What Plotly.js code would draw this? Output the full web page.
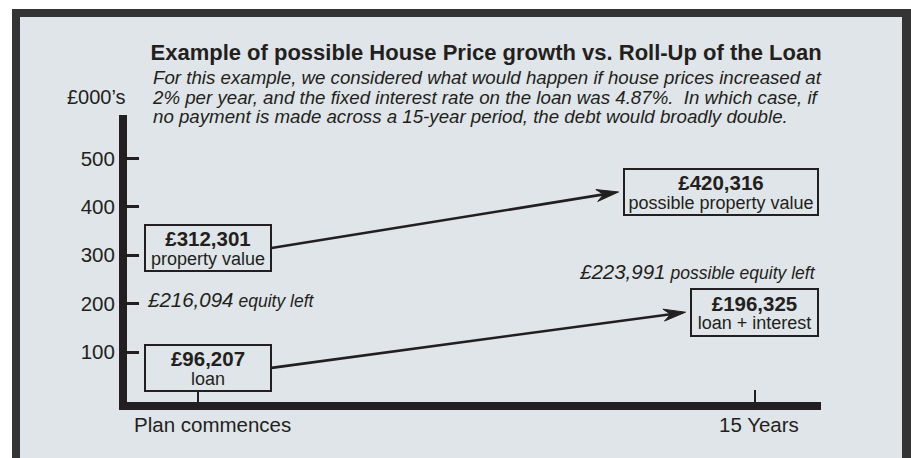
<!DOCTYPE html>
<html><head><meta charset="utf-8">
<script src="https://cdn.plot.ly/plotly-3.0.1.min.js"></script>
<style>html,body{margin:0;padding:0;background:#fff;}#chart{width:911px;height:458px;}</style>
</head><body><div id="chart"></div>
<script>
// ---- data ----
const years = [0, 15];
const xTickLabels = ['Plan commences', '15 Years'];
const yTicks = [100, 200, 300, 400, 500];
const propertyValue = [312301, 420316];
const loanValue = [96207, 196325];
const equityLeft = [216094, 223991];
const propertyLabels = ['property value', 'possible property value'];
const loanLabels = ['loan', 'loan + interest'];
const equityLabels = ['equity left', 'possible equity left'];
const titleText = 'Example of possible House Price growth vs. Roll-Up of the Loan';
const subtitleLines = [
  'For this example, we considered what would happen if house prices increased at',
  '2% per year, and the fixed interest rate on the loan was 4.87%.  In which case, if',
  'no payment is made across a 15-year period, the debt would broadly double.'
];
const unitLabel = '£000’s';

// ---- layout helpers ----
const W = 911, H = 458, M = {l: 127, r: 90, t: 115, b: 56};
const PW = W - M.l - M.r, PH = H - M.t - M.b;
const xr = [-1.912, 16.777], yr = [-3.3, 589.7];
const xpix = x => M.l + (x - xr[0]) / (xr[1] - xr[0]) * PW;
const ypix = y => H - M.b - (y - yr[0]) / (yr[1] - yr[0]) * PH;
const px2x = px => (px - M.l) / PW;
const py2y = py => (H - M.b - py) / PH;
const INK = '#231f20';
const FONT = 'Liberation Sans, Arial, Helvetica, sans-serif';
const fmt = v => '£' + String(v).replace(/\B(?=(\d{3})+(?!\d))/g, ',');
const k = v => v / 1000;

// box styles (pixel shifts and sizes)
const boxes = [
  {x: years[0], v: propertyValue[0], lab: propertyLabels[0], xs: 9.5,  ys: 1.2,  w: 128, h: 48},
  {x: years[0], v: loanValue[0],     lab: loanLabels[0],     xs: 9.5,  ys: -14,  w: 128, h: 48},
  {x: years[1], v: propertyValue[1], lab: propertyLabels[1], xs: -34,  ys: 5,    w: 196, h: 48},
  {x: years[1], v: loanValue[1],     lab: loanLabels[1],     xs: -0.5, ys: -6.8, w: 129, h: 49}
];
boxes.forEach(b => {
  b.cx = xpix(b.x) + b.xs; b.cy = ypix(k(b.v)) - b.ys;
  b.left = b.cx - b.w / 2; b.right = b.cx + b.w / 2;
});

const annotations = [];
boxes.forEach(b => {
  annotations.push({
    x: b.x, y: k(b.v), xref: 'x', yref: 'y', xshift: b.xs, yshift: b.ys,
    xanchor: 'center', yanchor: 'middle', showarrow: false,
    width: b.w - 4, height: b.h - 4, borderwidth: 2, borderpad: 0,
    bordercolor: INK, valign: 'middle', align: 'center',
    font: {family: FONT, size: 14, color: INK},
    text: '<span style="font-size:20.5px;font-weight:bold">' + fmt(b.v) + '</span><br>' +
          '<span style="font-size:18px">' + b.lab + '</span>'
  });
});

// equity labels
const eqStyle = [{xanchor: 'left', xs: -53, ys: -4}, {xanchor: 'right', xs: 63.3, ys: 20.5}];
equityLeft.forEach((v, i) => {
  annotations.push({
    x: years[i], y: k(v), xref: 'x', yref: 'y', xshift: eqStyle[i].xs, yshift: eqStyle[i].ys,
    xanchor: eqStyle[i].xanchor, yanchor: 'middle', showarrow: false,
    font: {family: FONT, size: 18, color: INK},
    text: '<span style="font-size:20.5px;font-style:italic">' + fmt(v) + '</span> ' +
          '<span style="font-size:17.5px;font-style:italic">' + equityLabels[i] + '</span>'
  });
});

// x labels
const xlabStyle = [{xanchor: 'left', xs: -66}, {xanchor: 'center', xs: 4}];
xTickLabels.forEach((t, i) => {
  annotations.push({
    x: years[i], xref: 'x', y: py2y(424), yref: 'paper', xshift: xlabStyle[i].xs,
    xanchor: xlabStyle[i].xanchor, yanchor: 'middle', showarrow: false,
    font: {family: FONT, size: 20.5, color: INK}, text: t
  });
});

// subtitle
annotations.push({
  xref: 'paper', yref: 'paper', x: px2x(150), y: py2y(97), xanchor: 'left', yanchor: 'middle',
  align: 'left', showarrow: false, font: {family: FONT, size: 15, color: INK},
  text: subtitleLines.map(l => '<span style="font-size:18.7px;font-style:italic">' + l + '</span>').join('<br>')
});
// unit label
annotations.push({
  xref: 'paper', yref: 'paper', x: px2x(128), y: py2y(97), xanchor: 'right', yanchor: 'middle',
  showarrow: false, font: {family: FONT, size: 20, color: INK}, text: unitLabel
});

// ---- shapes: frame + arrows ----
const shapes = [
  {type: 'rect', xref: 'paper', yref: 'paper', x0: px2x(12), x1: px2x(940), y0: py2y(490), y1: py2y(9),
   fillcolor: '#343434', line: {width: 0}, layer: 'below'},
  {type: 'rect', xref: 'paper', yref: 'paper', x0: px2x(20), x1: px2x(902), y0: py2y(490), y1: py2y(17),
   fillcolor: '#dfe5e8', line: {width: 0}, layer: 'below'}
];
const arrowPairs = [[boxes[0], boxes[2]], [boxes[1], boxes[3]]];
const arrowAnchors = [[years[1], k(propertyValue[1])], [years[1], k(loanValue[1])]];
arrowPairs.forEach((pair, i) => {
  const [from, to] = pair;
  const ax = xpix(arrowAnchors[i][0]), ay = ypix(arrowAnchors[i][1]);
  const tail = [from.right, from.cy];
  const tip = [to.left - 4.5, to.cy];
  const dx = tip[0] - tail[0], dy = tip[1] - tail[1], len = Math.hypot(dx, dy);
  const u = [dx / len, dy / len], p = [-u[1], u[0]];
  const L = 22, hw = 6, notch = 15;
  const pt = (P) => [(P[0] - ax).toFixed(2), (ay - P[1]).toFixed(2)];
  const notchP = [tip[0] - notch * u[0], tip[1] - notch * u[1]];
  const b1 = [tip[0] - L * u[0] + hw * p[0], tip[1] - L * u[1] + hw * p[1]];
  const b2 = [tip[0] - L * u[0] - hw * p[0], tip[1] - L * u[1] - hw * p[1]];
  const t0 = pt(tail), n0 = pt(notchP);
  shapes.push({type: 'line', xref: 'x', yref: 'y', xsizemode: 'pixel', ysizemode: 'pixel',
    xanchor: arrowAnchors[i][0], yanchor: arrowAnchors[i][1],
    x0: +t0[0], y0: +t0[1], x1: +n0[0], y1: +n0[1], line: {color: INK, width: 2.6}});
  const a = pt(tip), c = pt(b1), d = pt(b2);
  shapes.push({type: 'path', xref: 'x', yref: 'y', xsizemode: 'pixel', ysizemode: 'pixel',
    xanchor: arrowAnchors[i][0], yanchor: arrowAnchors[i][1],
    path: 'M' + a.join(',') + 'L' + c.join(',') + 'L' + n0.join(',') + 'L' + d.join(',') + 'Z',
    fillcolor: INK, line: {color: INK, width: 1}});
});

const layout = {
  width: W, height: H, margin: M,
  paper_bgcolor: '#ffffff', plot_bgcolor: 'rgba(0,0,0,0)',
  showlegend: false,
  title: {text: '<b>' + titleText + '</b>', font: {family: FONT, size: 22, color: INK},
          x: 150.5 / W, xref: 'container', xanchor: 'left', y: 1 - 52 / H, yref: 'container', yanchor: 'middle'},
  xaxis: {range: xr, tickvals: years, showticklabels: false, ticks: 'inside', ticklen: 12, tickwidth: 2.5,
          tickcolor: INK, showline: true, linewidth: 8, linecolor: INK, showgrid: false, zeroline: false, fixedrange: true},
  yaxis: {range: yr, tickvals: yTicks, ticktext: yTicks.map(String), ticks: 'inside', ticklen: 12, tickwidth: 3,
          tickcolor: INK, showline: true, linewidth: 8, linecolor: INK, showgrid: false, zeroline: false,
          tickfont: {family: FONT, size: 20.5, color: INK}, fixedrange: true},
  annotations: annotations,
  shapes: shapes
};

Plotly.newPlot('chart', [{x: years, y: [null, null], type: 'scatter', mode: 'lines', hoverinfo: 'skip'}], layout,
  {staticPlot: true, displayModeBar: false});
</script>
</body></html>
